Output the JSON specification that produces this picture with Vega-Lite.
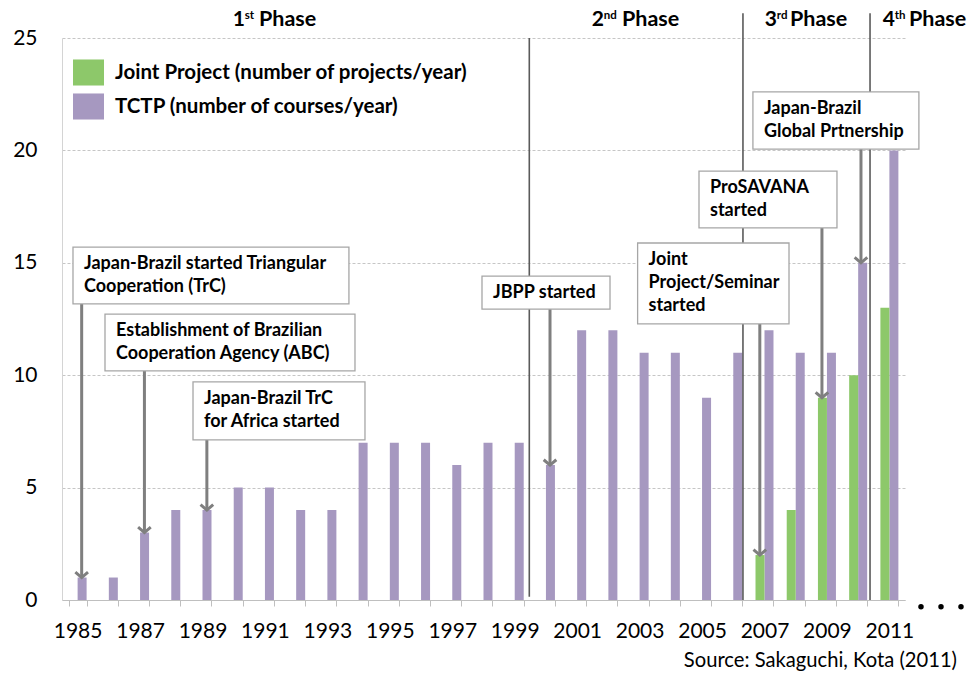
{
  "$schema": "https://vega.github.io/schema/vega-lite/v6.json",
  "width": 843,
  "height": 562,
  "autosize": {"type": "none"},
  "padding": {"left": 62, "top": 38, "right": 74, "bottom": 73},
  "background": "white",
  "config": {"view": {"stroke": null}, "font": "Lato"},
  "datasets": {
    "bars": [
      {"year": 1985, "series": "TCTP (number of courses/year)", "value": 1},
      {"year": 1986, "series": "TCTP (number of courses/year)", "value": 1},
      {"year": 1987, "series": "TCTP (number of courses/year)", "value": 3},
      {"year": 1988, "series": "TCTP (number of courses/year)", "value": 4},
      {"year": 1989, "series": "TCTP (number of courses/year)", "value": 4},
      {"year": 1990, "series": "TCTP (number of courses/year)", "value": 5},
      {"year": 1991, "series": "TCTP (number of courses/year)", "value": 5},
      {"year": 1992, "series": "TCTP (number of courses/year)", "value": 4},
      {"year": 1993, "series": "TCTP (number of courses/year)", "value": 4},
      {"year": 1994, "series": "TCTP (number of courses/year)", "value": 7},
      {"year": 1995, "series": "TCTP (number of courses/year)", "value": 7},
      {"year": 1996, "series": "TCTP (number of courses/year)", "value": 7},
      {"year": 1997, "series": "TCTP (number of courses/year)", "value": 6},
      {"year": 1998, "series": "TCTP (number of courses/year)", "value": 7},
      {"year": 1999, "series": "TCTP (number of courses/year)", "value": 7},
      {"year": 2000, "series": "TCTP (number of courses/year)", "value": 6},
      {"year": 2001, "series": "TCTP (number of courses/year)", "value": 12},
      {"year": 2002, "series": "TCTP (number of courses/year)", "value": 12},
      {"year": 2003, "series": "TCTP (number of courses/year)", "value": 11},
      {"year": 2004, "series": "TCTP (number of courses/year)", "value": 11},
      {"year": 2005, "series": "TCTP (number of courses/year)", "value": 9},
      {"year": 2006, "series": "TCTP (number of courses/year)", "value": 11},
      {"year": 2007, "series": "TCTP (number of courses/year)", "value": 12},
      {"year": 2008, "series": "TCTP (number of courses/year)", "value": 11},
      {"year": 2009, "series": "TCTP (number of courses/year)", "value": 11},
      {"year": 2010, "series": "TCTP (number of courses/year)", "value": 15},
      {"year": 2011, "series": "TCTP (number of courses/year)", "value": 20},
      {"year": 2007, "series": "Joint Project (number of projects/year)", "value": 2},
      {"year": 2008, "series": "Joint Project (number of projects/year)", "value": 4},
      {"year": 2009, "series": "Joint Project (number of projects/year)", "value": 9},
      {"year": 2010, "series": "Joint Project (number of projects/year)", "value": 10},
      {"year": 2011, "series": "Joint Project (number of projects/year)", "value": 13}
    ],
    "phaseLines": [
      {"x": 1999.467, "y0": 0.15, "y1": 25},
      {"x": 2006.31, "y0": 0, "y1": 26.1},
      {"x": 2010.38, "y0": 0, "y1": 26.1}
    ],
    "arrows": [
      {"x": 1985.13, "y0": 13.17, "tip": 1},
      {"x": 1987.14, "y0": 10.19, "tip": 3},
      {"x": 1989.14, "y0": 7.12, "tip": 4},
      {"x": 2000.13, "y0": 12.94, "tip": 6},
      {"x": 2006.85, "y0": 12.28, "tip": 2},
      {"x": 2008.84, "y0": 16.55, "tip": 9},
      {"x": 2010.09, "y0": 20.06, "tip": 15}
    ],
    "boxes": [
      {"x1": 1984.852, "x2": 1993.69, "yt": 15.7, "yb": 13.17, "label": ["Japan-Brazil started Triangular", "Cooperation (TrC)"]},
      {"x1": 1985.877, "x2": 1993.884, "yt": 12.72, "yb": 10.19, "label": ["Establishment of Brazilian", "Cooperation Agency (ABC)"]},
      {"x1": 1988.696, "x2": 1994.204, "yt": 9.7, "yb": 7.12, "label": ["Japan-Brazil TrC", "for Africa started"]},
      {"x1": 1997.952, "x2": 2002.052, "yt": 14.41, "yb": 12.94, "label": ["JBPP started"]},
      {"x1": 2002.936, "x2": 2007.785, "yt": 15.88, "yb": 12.28, "label": ["Joint", "Project/Seminar", "started"]},
      {"x1": 2004.902, "x2": 2009.321, "yt": 19.08, "yb": 16.55, "label": ["ProSAVANA", "started"]},
      {"x1": 2006.629, "x2": 2011.945, "yt": 22.6, "yb": 20.06, "label": ["Japan-Brazil", "Global Prtnership"]}
    ],
    "phases": [
      {"n": "1", "s": "st", "w": "Phase", "xn": 1989.97, "xs": 1990.355, "xw": 1990.81, "y": 25.53},
      {"n": "2", "s": "nd", "w": "Phase", "xn": 2001.47, "xs": 2001.853, "xw": 2002.436, "y": 25.53},
      {"n": "3", "s": "rd", "w": "Phase", "xn": 2007.01, "xs": 2007.394, "xw": 2007.816, "y": 25.53},
      {"n": "4", "s": "th", "w": "Phase", "xn": 2010.79, "xs": 2011.173, "xw": 2011.628, "y": 25.53}
    ],
    "notes": [
      {"x": 2013.166, "y": -2.98, "label": "Source: Sakaguchi, Kota (2011)"}
    ],
    "dots": [
      {"x": 2012.012, "y": -0.3},
      {"x": 2012.653, "y": -0.3},
      {"x": 2013.293, "y": -0.3}
    ]
  },
  "layer": [
    {
      "data": {"name": "bars"},
      "mark": {"type": "bar"},
      "encoding": {
        "x": {
          "field": "year", "type": "ordinal",
          "scale": {"paddingInner": 0.4235, "paddingOuter": 0.21175},
          "axis": {
            "title": null,
            "labelExpr": "datum.value % 2 == 1 ? datum.label : ''",
            "labelAngle": 0,
            "labelFont": "Lato",
            "labelFontSize": 21,
            "labelColor": "#000000",
            "labelBaseline": "top",
            "labelPadding": 14,
            "labelOverlap": false,
            "tickBand": "extent",
            "tickSize": 6,
            "tickColor": "#bfbfbf",
            "domainColor": "#bfbfbf",
            "grid": false
          }
        },
        "xOffset": {
          "field": "series", "type": "nominal",
          "scale": {"domain": ["Joint Project (number of projects/year)", "TCTP (number of courses/year)"], "paddingInner": 0, "paddingOuter": 0}
        },
        "y": {
          "field": "value", "type": "quantitative", "title": null,
          "scale": {"domain": [0, 25], "nice": false},
          "axis": {
            "values": [0, 5, 10, 15, 20, 25],
            "grid": true,
            "gridColor": "#c6c6c6",
            "gridDash": [3, 2],
            "domainColor": "#d4d4d4",
            "ticks": false,
            "tickSize": 0,
            "labelPadding": 25,
            "labelFont": "Lato",
            "labelFontSize": 21,
            "labelColor": "#000000"
          }
        },
        "color": {
          "field": "series", "type": "nominal",
          "scale": {"domain": ["Joint Project (number of projects/year)", "TCTP (number of courses/year)"], "range": ["#8DC86A", "#A698C0"]},
          "legend": {
            "title": null,
            "orient": "none",
            "legendX": 11,
            "legendY": 19,
            "direction": "vertical",
            "symbolType": "M-1,-0.84H1V0.84H-1Z",
            "symbolSize": 961,
            "symbolStrokeWidth": 0,
            "symbolOpacity": 1,
            "labelFont": "Lato",
            "labelFontSize": 20.5,
            "labelFontWeight": "bold",
            "labelColor": "#000000",
            "labelOffset": 11,
            "rowPadding": 5,
            "labelLimit": 600,
            "padding": 0
          }
        }
      }
    },
    {
      "layer": [
        {
          "data": {"name": "phaseLines"},
          "mark": {"type": "rule", "color": "#5a5a5a", "strokeWidth": 1.6},
          "encoding": {
            "x": {"field": "x", "type": "quantitative", "scale": {"domain": [1984.5, 2011.5], "nice": false, "zero": false}, "axis": null},
            "y": {"field": "y0", "type": "quantitative", "title": null, "scale": {"domain": [0, 25], "nice": false}},
            "y2": {"field": "y1"}
          }
        },
        {
          "data": {"name": "arrows"},
          "mark": {"type": "rule", "color": "#7f7f7f", "strokeWidth": 3},
          "encoding": {
            "x": {"field": "x", "type": "quantitative", "scale": {"domain": [1984.5, 2011.5], "nice": false, "zero": false}, "axis": null},
            "y": {"field": "y0", "type": "quantitative", "title": null, "scale": {"domain": [0, 25], "nice": false}},
            "y2": {"field": "tip"}
          }
        },
        {
          "data": {"name": "arrows"},
          "mark": {"type": "point", "shape": "M-1,-0.85L0,0L1,-0.85", "size": 160, "filled": false, "color": "#7f7f7f", "strokeWidth": 3, "strokeJoin": "miter", "opacity": 1},
          "encoding": {
            "x": {"field": "x", "type": "quantitative", "scale": {"domain": [1984.5, 2011.5], "nice": false, "zero": false}, "axis": null},
            "y": {"field": "tip", "type": "quantitative", "title": null, "scale": {"domain": [0, 25], "nice": false}}
          }
        },
        {
          "data": {"name": "boxes"},
          "mark": {"type": "rect", "fill": "white", "stroke": "#a6a6a6", "strokeWidth": 1.3},
          "encoding": {
            "x": {"field": "x1", "type": "quantitative", "scale": {"domain": [1984.5, 2011.5], "nice": false, "zero": false}, "axis": null},
            "x2": {"field": "x2"},
            "y": {"field": "yt", "type": "quantitative", "title": null, "scale": {"domain": [0, 25], "nice": false}},
            "y2": {"field": "yb"}
          }
        },
        {
          "data": {"name": "boxes"},
          "mark": {"type": "text", "align": "left", "baseline": "top", "dx": 11, "dy": 8, "font": "Lato", "fontSize": 18, "fontWeight": "bold", "lineHeight": 23, "color": "#000000"},
          "encoding": {
            "x": {"field": "x1", "type": "quantitative", "scale": {"domain": [1984.5, 2011.5], "nice": false, "zero": false}, "axis": null},
            "y": {"field": "yt", "type": "quantitative", "title": null, "scale": {"domain": [0, 25], "nice": false}},
            "text": {"field": "label"}
          }
        },
        {
          "data": {"name": "phases"},
          "mark": {"type": "text", "align": "left", "baseline": "alphabetic", "font": "Lato", "fontSize": 21, "fontWeight": "bold", "color": "#000000"},
          "encoding": {
            "x": {"field": "xn", "type": "quantitative", "scale": {"domain": [1984.5, 2011.5], "nice": false, "zero": false}, "axis": null},
            "y": {"field": "y", "type": "quantitative", "title": null, "scale": {"domain": [0, 25], "nice": false}},
            "text": {"field": "n"}
          }
        },
        {
          "data": {"name": "phases"},
          "mark": {"type": "text", "align": "left", "baseline": "alphabetic", "dy": -7, "font": "Lato", "fontSize": 11.5, "fontWeight": "bold", "color": "#000000"},
          "encoding": {
            "x": {"field": "xs", "type": "quantitative", "scale": {"domain": [1984.5, 2011.5], "nice": false, "zero": false}, "axis": null},
            "y": {"field": "y", "type": "quantitative", "title": null, "scale": {"domain": [0, 25], "nice": false}},
            "text": {"field": "s"}
          }
        },
        {
          "data": {"name": "phases"},
          "mark": {"type": "text", "align": "left", "baseline": "alphabetic", "font": "Lato", "fontSize": 21.5, "fontWeight": "bold", "color": "#000000"},
          "encoding": {
            "x": {"field": "xw", "type": "quantitative", "scale": {"domain": [1984.5, 2011.5], "nice": false, "zero": false}, "axis": null},
            "y": {"field": "y", "type": "quantitative", "title": null, "scale": {"domain": [0, 25], "nice": false}},
            "text": {"field": "w"}
          }
        },
        {
          "data": {"name": "notes"},
          "mark": {"type": "text", "align": "right", "baseline": "alphabetic", "font": "Lato", "fontSize": 20.2, "color": "#000000"},
          "encoding": {
            "x": {"field": "x", "type": "quantitative", "scale": {"domain": [1984.5, 2011.5], "nice": false, "zero": false}, "axis": null},
            "y": {"field": "y", "type": "quantitative", "title": null, "scale": {"domain": [0, 25], "nice": false}},
            "text": {"field": "label"}
          }
        },
        {
          "data": {"name": "dots"},
          "mark": {"type": "point", "shape": "circle", "filled": true, "size": 30, "color": "#000000", "opacity": 1},
          "encoding": {
            "x": {"field": "x", "type": "quantitative", "scale": {"domain": [1984.5, 2011.5], "nice": false, "zero": false}, "axis": null},
            "y": {"field": "y", "type": "quantitative", "title": null, "scale": {"domain": [0, 25], "nice": false}}
          }
        }
      ]
    }
  ],
  "resolve": {"scale": {"x": "independent"}}
}
